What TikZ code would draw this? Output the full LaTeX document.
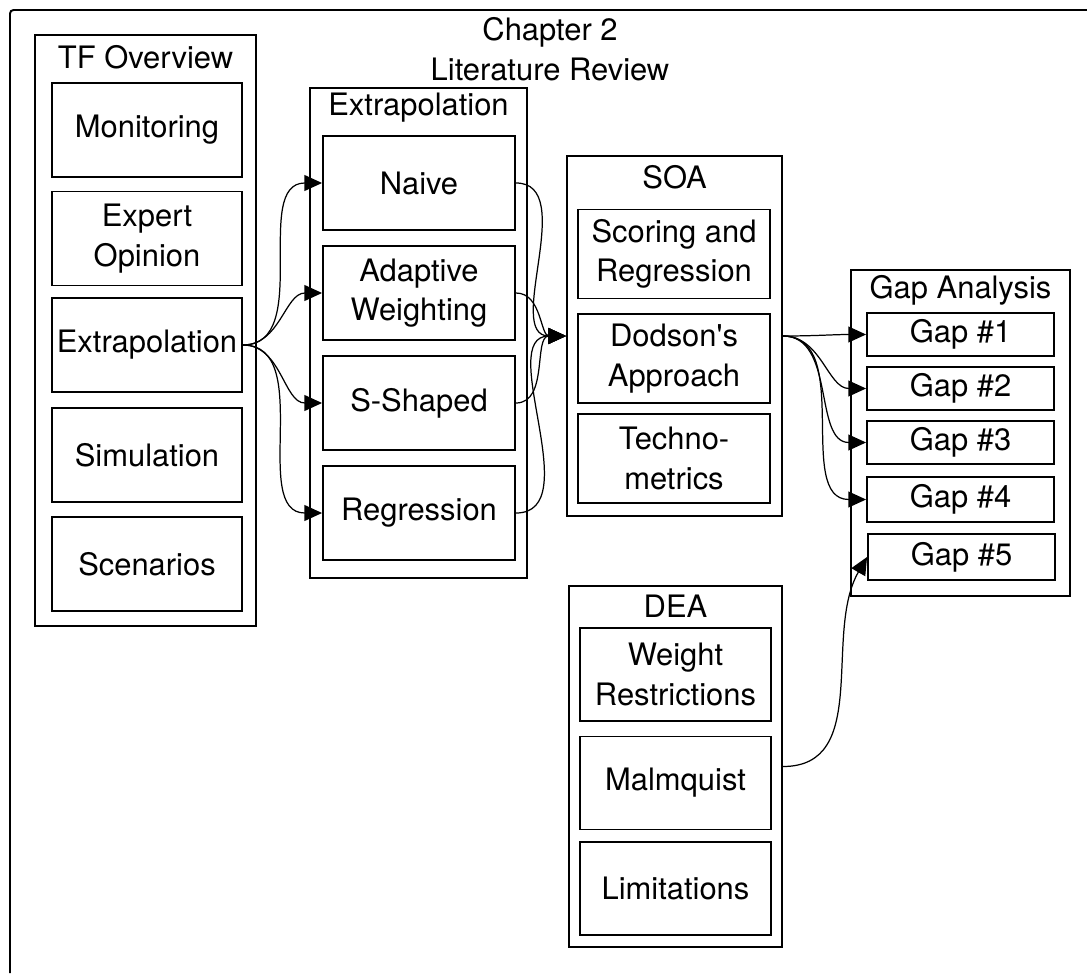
\documentclass[tikz,border=0pt]{standalone}
\usepackage{fontspec}
\setmainfont{TeX Gyre Heros}
\usepackage{tikz}
\usetikzlibrary{arrows.meta,shapes}

\begin{document}
\begin{tikzpicture}[x=0.02cm, y=-0.02cm]
	  \tikzstyle{every node} = [font=\fontsize{17.6}{22.5}\selectfont, align=center, inner sep=0pt]
	  \tikzstyle{group} = [draw, line width=1.1pt, rectangle]
	  \tikzstyle{box} = [draw, line width=1.1pt, rectangle]
	  \tikzstyle{link} = [line width=0.7pt, -{Triangle[length=10pt, width=9pt]}]
	  \useasboundingbox (0,0) rectangle (1087,973);
	  \draw[line width=1.1pt, rounded corners=2pt] (1087,10) -- (10,10) -- (10,973);
	  \node (ch) at (550,49) {Chapter 2\\Literature Review};
	  % TF overview
	  \node (T)[group, minimum width=4.42cm, minimum height=11.82cm] at (145.5,330.5) {};
	  \node (Tt) at (145.5,57) {TF Overview};
	  \node (t1)[box, minimum width=3.8cm, minimum height=1.88cm] at (147,130) {Monitoring};
	  \node (t2)[box, minimum width=3.8cm, minimum height=1.88cm] at (147,238.5) {Expert\\Opinion};
	  \node (t3)[box, minimum width=3.8cm, minimum height=1.88cm] at (147,345) {Extrapolation};
	  \node (t4)[box, minimum width=3.8cm, minimum height=1.88cm] at (147,455) {Simulation};
	  \node (t5)[box, minimum width=3.8cm, minimum height=1.88cm] at (147,564) {Scenarios};
	  % extrapolation
	  \node (E)[group, minimum width=4.34cm, minimum height=9.8cm] at (418.5,333) {};
	  \node (Et) at (418.5,108) {Extrapolation};
	  \node (e1)[box, minimum width=3.84cm, minimum height=1.88cm] at (419,183) {Naive};
	  \node (e2)[box, minimum width=3.84cm, minimum height=1.88cm] at (419,293) {Adaptive\\Weighting};
	  \node (e3)[box, minimum width=3.84cm, minimum height=1.88cm] at (419,403) {S-Shaped};
	  \node (e4)[box, minimum width=3.84cm, minimum height=1.88cm] at (419,513) {Regression};
	  % SOA
	  \node (S)[group, minimum width=4.3cm, minimum height=7.2cm] at (674.5,336) {};
	  \node (St) at (674.5,177) {SOA};
	  \node (s1)[box, minimum width=3.84cm, minimum height=1.78cm] at (674,254) {Scoring and\\Regression};
	  \node (s2)[box, minimum width=3.84cm, minimum height=1.78cm] at (674,358.5) {Dodson\textquotesingle s\\Approach};
	  \node (s3)[box, minimum width=3.84cm, minimum height=1.78cm] at (674,458.5) {Techno-\\metrics};
	  % DEA
	  \node (D)[group, minimum width=4.26cm, minimum height=7.22cm] at (675.5,766.5) {};
	  \node (Dt) at (675.5,606) {DEA};
	  \node (d1)[box, minimum width=3.82cm, minimum height=1.86cm] at (675.5,674.5) {Weight\\Restrictions};
	  \node (d2)[box, minimum width=3.82cm, minimum height=1.86cm] at (675.5,783) {Malmquist};
	  \node (d3)[box, minimum width=3.82cm, minimum height=1.86cm] at (675.5,888.5) {Limitations};
	  % gaps
	  \node (G)[group, minimum width=4.38cm, minimum height=6.52cm] at (960.5,433) {};
	  \node (Gt) at (960.5,290) {Gap Analysis};
	  \node (g1)[box, minimum width=3.74cm, minimum height=0.86cm] at (960.5,334.5) {Gap \#1};
	  \node (g2)[box, minimum width=3.74cm, minimum height=0.86cm] at (960.5,388.5) {Gap \#2};
	  \node (g3)[box, minimum width=3.74cm, minimum height=0.86cm] at (960.5,442.5) {Gap \#3};
	  \node (g4)[box, minimum width=3.74cm, minimum height=0.9cm] at (960.5,499.5) {Gap \#4};
	  \node (g5)[box, minimum width=3.74cm, minimum height=0.92cm] at (961.5,557) {Gap \#5};
	  \foreach \to in {1,...,4}
	    \draw[link] (t3.east) to[out=0, in=180] (e\to.west);
	  \foreach \from in {1,...,4}
	    \draw[link] (e\from.east) to[out=0, in=180] (S.west);
	  \foreach \to in {1,...,4}
	    \draw[link] (S.east) to[out=0, in=180] (g\to.west);
	  \draw[link] (D.east) to[out=0, in=240] (g5.west);
	\end{tikzpicture}
\end{document}
